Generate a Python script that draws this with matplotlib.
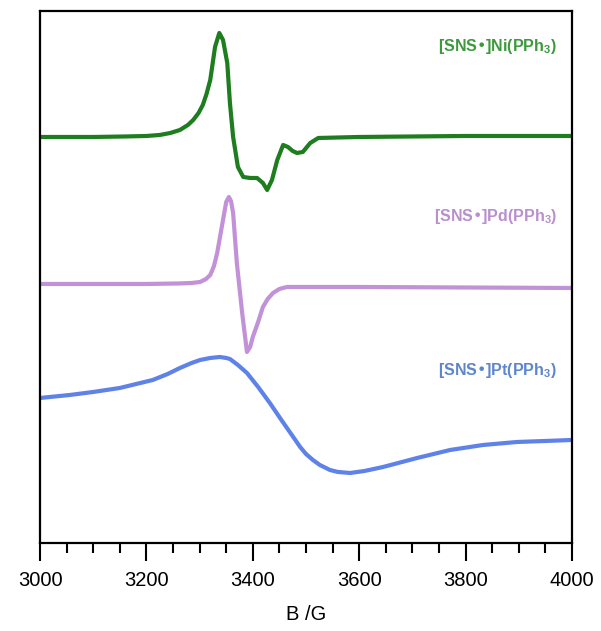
import matplotlib
matplotlib.use("Agg")
import matplotlib.pyplot as plt
from matplotlib.ticker import MultipleLocator

plt.rcParams['font.family'] = ['Liberation Sans', 'DejaVu Sans']
plt.rcParams['mathtext.default'] = 'regular'

# field (G) and derivative intensity (a.u.)
ni_b = [3000, 3100, 3160, 3200, 3225, 3245, 3263, 3278, 3288, 3298, 3306, 3313,
        3320, 3329, 3337, 3344, 3352, 3357, 3363, 3372, 3382, 3395, 3408, 3419,
        3427, 3436, 3446, 3457, 3466, 3475, 3483, 3494, 3508, 3523, 3600, 3800, 4000]
ni_i = [0.0, 0.0, 0.05, 0.1, 0.2, 0.4, 0.7, 1.2, 1.7, 2.4, 3.2, 4.3,
        5.7, 9.0, 10.4, 9.7, 7.4, 3.4, 0.0, -3.0, -4.0, -4.1, -4.1, -4.6,
        -5.3, -4.3, -2.3, -0.8, -1.0, -1.4, -1.6, -1.5, -0.6, -0.1, 0.0, 0.1, 0.1]

pd_b = [3000, 3200, 3260, 3285, 3301, 3312, 3320, 3327, 3333, 3344, 3350, 3355,
        3359, 3363, 3370, 3380, 3389, 3395, 3400, 3410, 3419, 3428, 3438, 3450,
        3464, 3600, 4000]
pd_i = [0.0, 0.0, 0.05, 0.1, 0.2, 0.5, 0.9, 1.8, 3.1, 6.4, 8.2, 8.7,
        8.3, 7.1, 2.1, -2.9, -6.8, -6.3, -5.3, -3.8, -2.3, -1.5, -0.9, -0.5,
        -0.3, -0.3, -0.4]

pt_b = [3000, 3056, 3100, 3150, 3212, 3240, 3263, 3285, 3301, 3320, 3338, 3350,
        3357, 3372, 3389, 3410, 3432, 3455, 3476, 3489, 3500, 3513, 3526, 3545,
        3560, 3583, 3610, 3645, 3709, 3771, 3833, 3897, 3950, 4000]
pt_i = [0.0, 0.3, 0.6, 1.0, 1.8, 2.4, 3.0, 3.5, 3.8, 4.0, 4.1, 4.0,
        3.9, 3.3, 2.5, 1.1, -0.5, -2.3, -3.9, -4.9, -5.6, -6.2, -6.7, -7.2,
        -7.4, -7.5, -7.3, -6.9, -6.0, -5.2, -4.7, -4.4, -4.3, -4.2]

offsets = [40.6, 25.9, 14.5]
labels = ['[SNS•]Ni(PPh$_3$)', '[SNS•]Pd(PPh$_3$)', '[SNS•]Pt(PPh$_3$)']
line_colors = ['#1e7d1e', '#c291d8', '#5f82e8']
text_colors = ['#3c9a3c', '#b98fcf', '#5d86cc']
label_y = [49.6, 32.6, 17.2]

fig = plt.figure(figsize=(6.01, 6.31), dpi=100)
ax = fig.add_axes([0.0666, 0.1395, 0.8851, 0.8431])

series = [(ni_b, ni_i), (pd_b, pd_i), (pt_b, pt_i)]
for (b, inten), off, c in zip(series, offsets, line_colors):
    ax.plot(b, [v + off for v in inten], color=c, lw=3.0,
            solid_joinstyle='round', solid_capstyle='round')

for lab, y, c in zip(labels, label_y, text_colors):
    ax.text(3972, y, lab, color=c, fontsize=11.5, fontweight='bold',
            ha='right', va='center')

ax.set_xlim(3000, 4000)
ax.set_ylim(0, 53.2)
ax.xaxis.set_major_locator(MultipleLocator(200))
ax.xaxis.set_minor_locator(MultipleLocator(50))
ax.set_yticks([])
ax.tick_params(axis='x', which='major', length=13, width=1.5, labelsize=14.5, pad=7)
ax.tick_params(axis='x', which='minor', length=7, width=1.5)
for s in ax.spines.values():
    s.set_linewidth(1.6)
ax.set_xlabel('B /G', fontsize=14.5, labelpad=11)

fig.savefig('out.png', dpi=100)
